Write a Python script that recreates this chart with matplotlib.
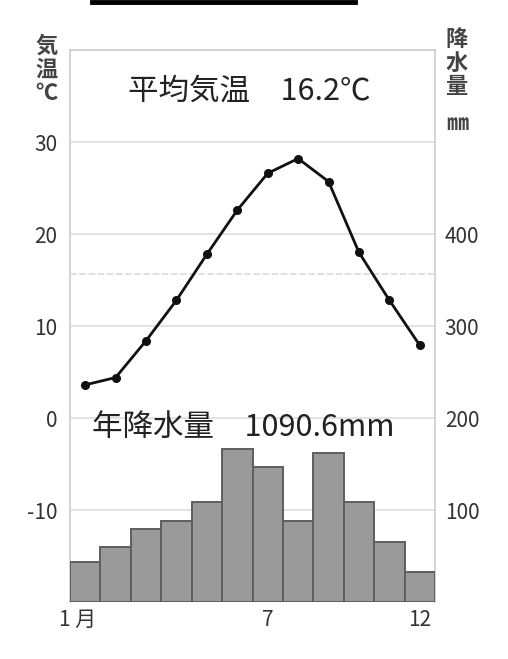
import matplotlib.pyplot as plt
from matplotlib.lines import Line2D
from matplotlib.transforms import ScaledTranslation

plt.rcParams['font.family'] = ['Noto Sans CJK JP', 'DejaVu Sans']

# monthly values
months = list(range(1, 13))
temp = [3.6, 4.4, 8.4, 12.8, 17.8, 22.6, 26.6, 28.2, 25.7, 18.0, 12.8, 7.9]
precip = [43, 60, 79, 88, 109, 166, 147, 88, 162, 109, 65, 33]
mean_line = 15.7
temp_ticks = [-10, 0, 10, 20, 30]
temp_labels = ['-10', '0', '10', '20', '30']
precip_ticks = [100, 200, 300, 400, 500]
precip_labels = ['100', '200', '300', '400', '']
month_ticks = [1, 7, 12]
month_labels = ['1 月', '7', '12']

txt = '#333333'
grid = '#dddddd'

fig = plt.figure(figsize=(5.08, 6.59), dpi=100)
ax = fig.add_axes([0.1378, 0.0865, 0.7185, 0.8376])
axt = ax.twinx()

# precipitation bars (main axes, right scale)
ax.bar(months, precip, width=1.0, color='#9a9a9a', edgecolor='#5e5e5e', linewidth=1.4, zorder=3)
ax.set_xlim(0.5, 12.5)
ax.set_ylim(0, 600)
ax.yaxis.tick_right()
ax.set_yticks(precip_ticks)
ax.set_yticklabels(precip_labels)
ax.grid(axis='y', color=grid, linewidth=1.2)
ax.set_axisbelow(True)
ax.tick_params(axis='y', length=0, pad=7, labelsize=15, labelcolor=txt)
ax.set_xticks(month_ticks)
ax.set_xticklabels(month_labels)
ax.tick_params(axis='x', length=0, pad=5, labelsize=15, labelcolor=txt)
# nudge "1 月" a little to the left, as in the reference
lab = ax.get_xticklabels()[0]
lab.set_transform(lab.get_transform() + ScaledTranslation(-8 / 100, 0, fig.dpi_scale_trans))
for s in ['left', 'right', 'top']:
    ax.spines[s].set_color('#cccccc')
    ax.spines[s].set_linewidth(1.2)
ax.spines['bottom'].set_visible(False)

# temperature line (twin axes, left scale)
axt.set_ylim(-20, 40)
axt.yaxis.tick_left()
axt.set_yticks(temp_ticks)
axt.set_yticklabels(temp_labels)
axt.tick_params(axis='y', length=0, pad=9, labelsize=15, labelcolor=txt)
for s in axt.spines.values():
    s.set_visible(False)
axt.axhline(mean_line, color='#dadada', linewidth=1.2, linestyle=(0, (4, 1.5)), zorder=1)
axt.plot(months, temp, color='#111111', linewidth=2, marker='o', markersize=5.5, zorder=4)

# captions inside the plot
axt.text(6.4, 35.5, '平均気温　16.2℃', ha='center', va='center', fontsize=22, color='#222222')
axt.text(6.2, -1.0, '年降水量　1090.6mm', ha='center', va='center', fontsize=22, color='#222222')

# axis unit labels (stacked vertically)
fig.text(47 / 508, 1 - 70 / 659, '気\n温\n℃', ha='center', va='center', fontsize=16,
         fontweight='bold', color='#444444', linespacing=1.05)
fig.text(457 / 508, 1 - 63 / 659, '降\n水\n量', ha='center', va='center', fontsize=16,
         fontweight='bold', color='#444444', linespacing=1.05)
fig.text(457 / 508, 1 - 123 / 659, '㎜', ha='center', va='center', fontsize=16,
         fontweight='bold', color='#444444')

# remnant of the title box at the top edge
fig.add_artist(Line2D([92 / 508, 355 / 508], [1 - 2 / 659] * 2, color='black', linewidth=3.5))

fig.savefig('out.png', dpi=100, facecolor='white')
